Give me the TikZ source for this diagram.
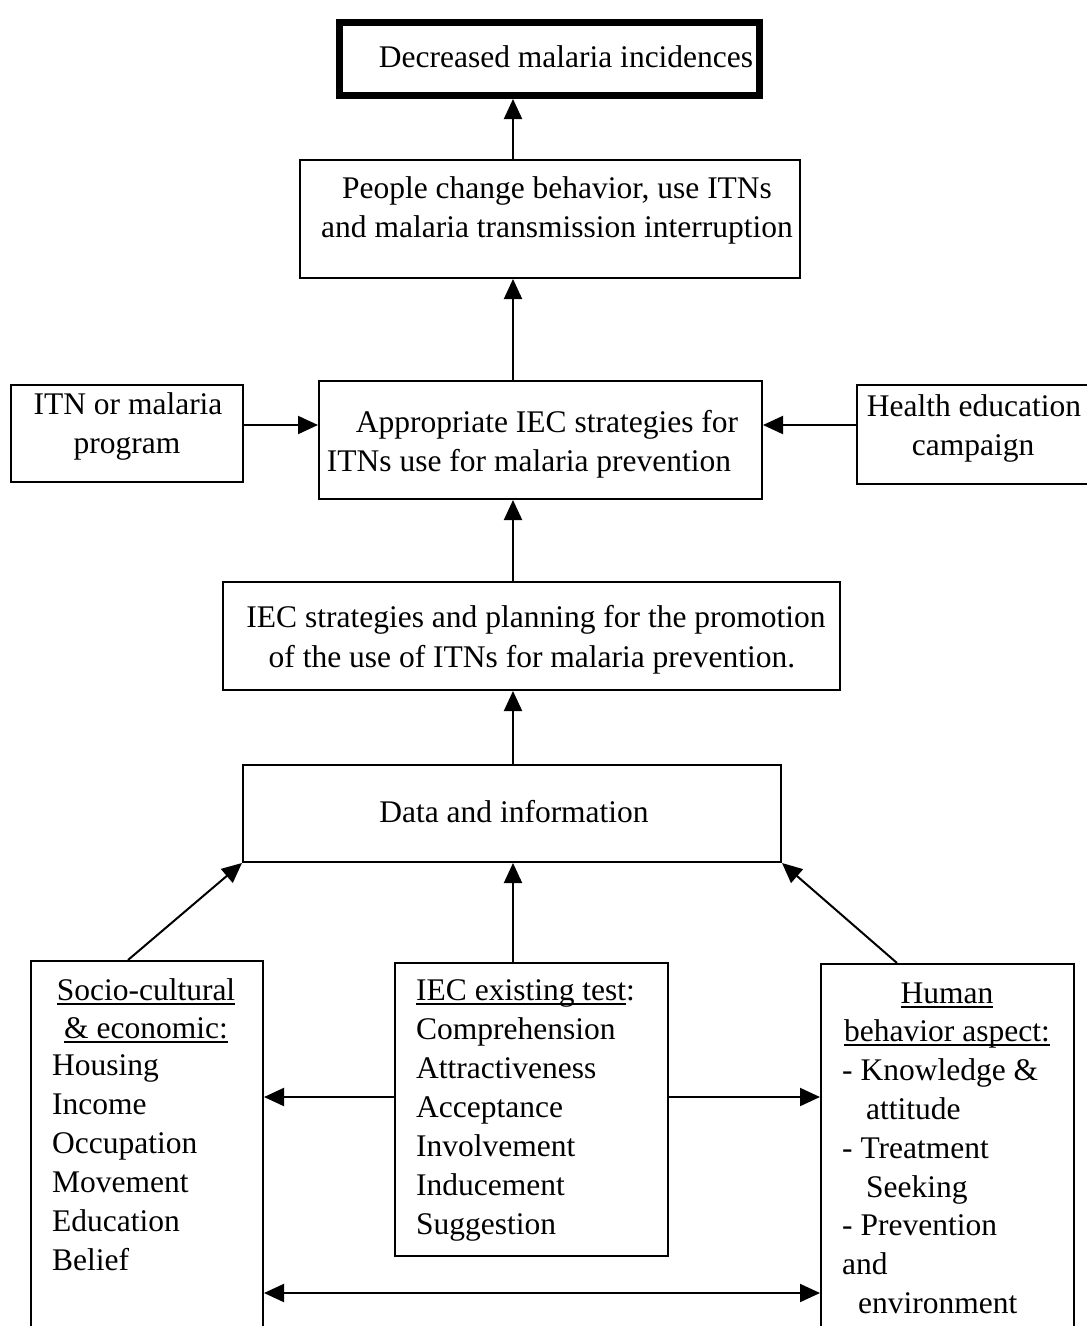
\documentclass[tikz,border=0pt]{standalone}
\usepackage{fontspec}
\setmainfont{Liberation Serif}
\usetikzlibrary{arrows.meta,calc}
\newcommand\myul[1]{\setbox0\hbox{#1}\rlap{\rule[-4.5pt]{\wd0}{2pt}}\box0}
\begin{document}
\begin{tikzpicture}[x=1pt,y=-1pt,
  box/.style={draw,line width=2pt,inner sep=0pt},
  txt/.style={inner sep=0pt,anchor=base,font=\fontsize{31.5}{39}\selectfont},
  ltxt/.style={txt,anchor=base west},
  arr/.style={line width=2pt,-{Triangle[length=20pt,width=18pt]}},
  darr/.style={line width=2pt,{Triangle[length=20pt,width=18pt]}-{Triangle[length=20pt,width=18pt]}}]
\useasboundingbox (0,0) rectangle (1087,1326);
\clip (0,0) rectangle (1087,1326);
\fill[white] (0,0) rectangle (1087,1326);

% boxes
\node[box,line width=7pt,minimum width=420pt,minimum height=73pt] (top) at (549.5,59) {};
\node[box,minimum width=500pt,minimum height=118pt] (b2) at (550,219) {};
\node[box,minimum width=443pt,minimum height=118pt] (b3) at (540.5,440) {};
\node[box,minimum width=232pt,minimum height=97pt] (lp) at (127,433.5) {};
\node[box,minimum width=232pt,minimum height=99pt] (rp) at (973,434.5) {};
\node[box,minimum width=617pt,minimum height=108pt] (b4) at (531.5,636) {};
\node[box,minimum width=538pt,minimum height=97pt] (b5) at (512,813.5) {};
\node[box,minimum width=232pt,minimum height=380pt] (bl) at (147,1151) {};
\node[box,minimum width=273pt,minimum height=293pt] (bc) at (531.5,1109.5) {};
\node[box,minimum width=253pt,minimum height=378pt] (br) at (947.5,1153) {};

% texts
\node[txt] (t1) at (566,67) {Decreased malaria incidences};
\node[txt] (t2a) at (557,198) {People change behavior, use ITNs};
\node[txt] (t2b) at (557,237) {and malaria transmission interruption};
\node[txt] (t3a) at (547,432) {Appropriate IEC strategies for};
\node[txt] (t3b) at (529,471) {ITNs use for malaria prevention};
\node[txt] (tla) at (128,414) {ITN or malaria};
\node[txt] (tlb) at (127,453) {program};
\node[txt] (tra) at (974,416) {Health education};
\node[txt] (trb) at (973,455) {campaign};
\node[txt] (t4a) at (536,627) {IEC strategies and planning for the promotion};
\node[txt] (t4b) at (532,667) {of the use of ITNs for malaria prevention.};
\node[txt] (t5) at (514,822) {Data and information};

% bottom left
\node[txt] (sa) at (146,1000) {\myul{Socio-cultural}};
\node[txt] (sb) at (146,1038) {\myul{\& economic:}};
\foreach \t [count=\i] in {Housing,Income,Occupation,Movement,Education,Belief}
  \node[ltxt] (s\i) at (52,{1075+(\i-1)*39}) {\t};

% bottom centre
\node[ltxt] (ca) at (416,1000) {\myul{IEC existing test}:};
\foreach \t [count=\i] in {Comprehension,Attractiveness,Acceptance,Involvement,Inducement,Suggestion}
  \node[ltxt] (c\i) at (416,{1000+\i*39}) {\t};

% bottom right
\node[txt] (ha) at (947,1003) {\myul{Human}};
\node[txt] (hb) at (947,1041.8) {\myul{behavior aspect:}};
\node[ltxt] (h1) at (842,1080.6) {- Knowledge \&};
\node[ltxt] (h2) at (866,1119.4) {attitude};
\node[ltxt] (h3) at (842,1158.2) {- Treatment};
\node[ltxt] (h4) at (866,1197) {Seeking};
\node[ltxt] (h5) at (842,1235.8) {- Prevention};
\node[ltxt] (h6) at (842,1274.6) {and};
\node[ltxt] (h7) at (858,1313.4) {environment};

% connectors
\coordinate (cx) at (513,0);
\coordinate (my) at (0,425);
\coordinate (lx) at (128,0);
\coordinate (rx) at (897,0);
\coordinate (y1) at (0,1097);
\coordinate (y2) at (0,1293);
\draw[arr] (b2.north -| cx) -- (top.south -| cx);
\draw[arr] (b3.north -| cx) -- (b2.south -| cx);
\draw[arr] (lp.east |- my) -- (b3.west |- my);
\draw[arr] (rp.west |- my) -- (b3.east |- my);
\draw[arr] (b4.north -| cx) -- (b3.south -| cx);
\draw[arr] (b5.north -| cx) -- (b4.south -| cx);
\draw[arr] (bl.north -| lx) -- (b5.south west);
\draw[arr] (bc.north -| cx) -- (b5.south -| cx);
\draw[arr] (br.north -| rx) -- (b5.south east);
\draw[arr] (bc.west |- y1) -- (bl.east |- y1);
\draw[arr] (bc.east |- y1) -- (br.west |- y1);
\draw[darr] (bl.east |- y2) -- (br.west |- y2);
\end{tikzpicture}
\end{document}
